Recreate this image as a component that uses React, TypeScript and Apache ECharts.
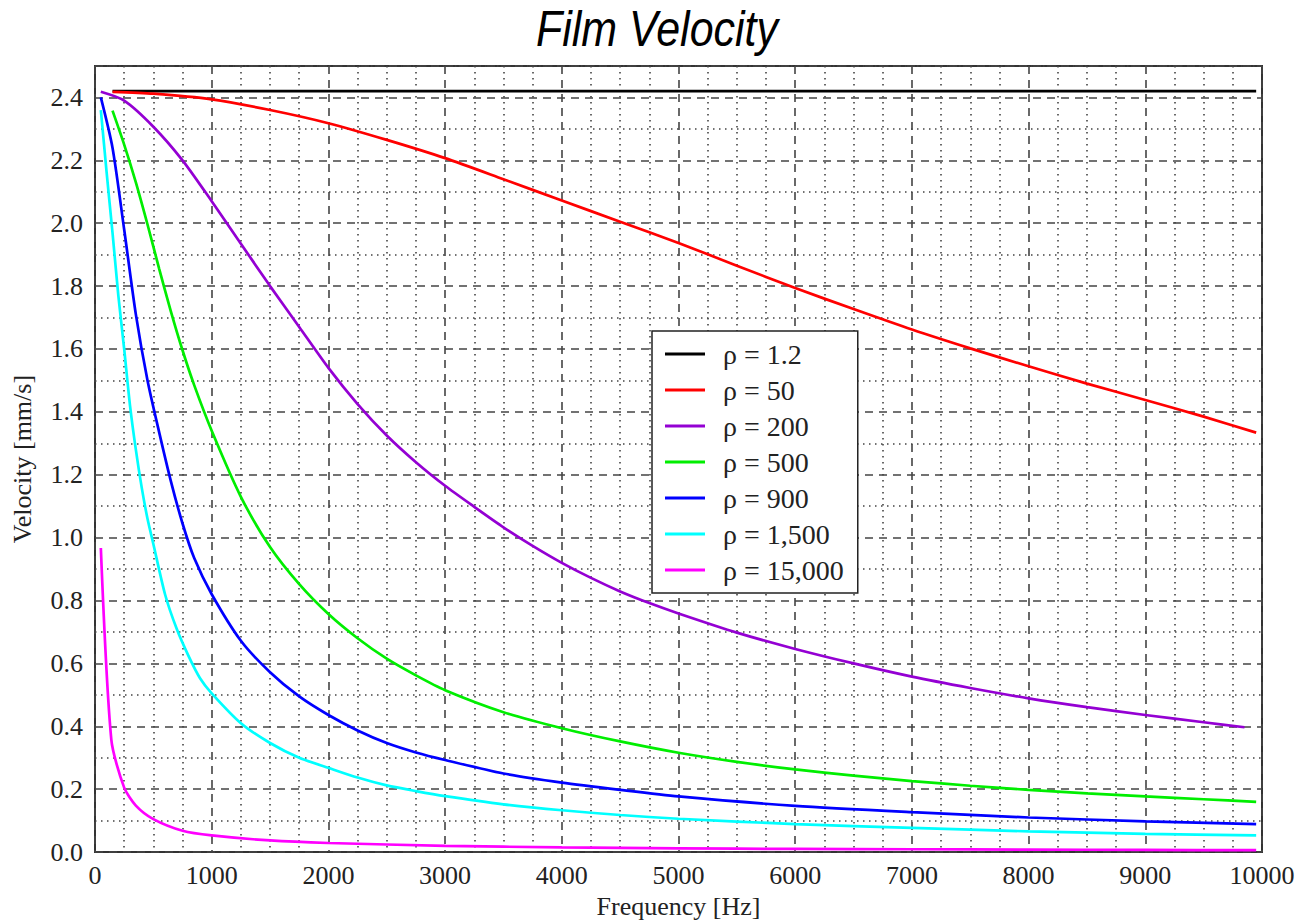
import React, { useEffect, useRef } from "react";
import * as echarts from "echarts";

// Frequency [Hz] / Velocity [mm/s] pairs
const rho1_2: [number, number][] = [[150, 2.42], [2000, 2.42], [5000, 2.42], [9950, 2.42]];
const rho50: [number, number][] = [
  [150, 2.418], [500, 2.412], [1000, 2.394], [1500, 2.36], [2000, 2.318], [2500, 2.265],
  [3000, 2.207], [3500, 2.14], [4000, 2.072], [4500, 2.005], [5000, 1.937], [5500, 1.865],
  [6000, 1.794], [6500, 1.727], [7000, 1.662], [7500, 1.602], [8000, 1.545], [8500, 1.49],
  [9000, 1.438], [9500, 1.385], [9950, 1.334],
];
const rho200: [number, number][] = [
  [50, 2.418], [250, 2.39], [500, 2.307], [750, 2.2], [1000, 2.07], [1250, 1.935],
  [1500, 1.8], [1750, 1.67], [2000, 1.54], [2250, 1.425], [2500, 1.325], [2750, 1.24],
  [3000, 1.165], [3250, 1.098], [3500, 1.033], [3750, 0.974], [4000, 0.92], [4250, 0.872],
  [4500, 0.829], [4750, 0.792], [5000, 0.759], [5500, 0.698], [6000, 0.646], [6500, 0.6],
  [7000, 0.558], [7500, 0.522], [8000, 0.489], [8500, 0.461], [9000, 0.436], [9500, 0.413],
  [9850, 0.397],
];
const rho500: [number, number][] = [
  [150, 2.358], [250, 2.25], [350, 2.13], [450, 1.996], [550, 1.855], [650, 1.72],
  [750, 1.596], [850, 1.485], [1000, 1.34], [1250, 1.13], [1500, 0.97], [1750, 0.852],
  [2000, 0.757], [2250, 0.68], [2500, 0.615], [2750, 0.562], [3000, 0.515], [3500, 0.445],
  [4000, 0.394], [4500, 0.352], [5000, 0.316], [5500, 0.287], [6000, 0.263], [6500, 0.243],
  [7000, 0.226], [7500, 0.211], [8000, 0.198], [8500, 0.187], [9000, 0.177], [9500, 0.168],
  [9950, 0.16],
];
const rho900: [number, number][] = [
  [50, 2.4], [150, 2.24], [250, 1.98], [350, 1.71], [450, 1.5], [550, 1.335], [650, 1.18],
  [750, 1.045], [850, 0.935], [1000, 0.82], [1250, 0.672], [1500, 0.572], [1750, 0.495],
  [2000, 0.436], [2250, 0.387], [2500, 0.347], [2750, 0.317], [3000, 0.293], [3500, 0.25],
  [4000, 0.221], [4500, 0.198], [5000, 0.177], [6000, 0.147], [7000, 0.127], [8000, 0.11],
  [9000, 0.098], [9950, 0.089],
];
const rho1500: [number, number][] = [
  [50, 2.36], [100, 2.16], [150, 1.97], [200, 1.77], [250, 1.6], [300, 1.42], [350, 1.28],
  [400, 1.16], [450, 1.06], [500, 0.98], [600, 0.82], [700, 0.71], [800, 0.625], [900, 0.553],
  [1000, 0.505], [1250, 0.41], [1500, 0.347], [1750, 0.3], [2000, 0.268], [2250, 0.237],
  [2500, 0.212], [2750, 0.194], [3000, 0.178], [3500, 0.152], [4000, 0.133], [4500, 0.118],
  [5000, 0.106], [6000, 0.089], [7000, 0.077], [8000, 0.066], [9000, 0.058], [9950, 0.053],
];
const rho15000: [number, number][] = [
  [50, 0.967], [140, 0.357], [250, 0.205], [350, 0.148], [500, 0.105], [750, 0.068],
  [1000, 0.053], [1500, 0.037], [2000, 0.029], [3000, 0.02], [4000, 0.015], [5000, 0.012],
  [6000, 0.01], [7000, 0.009], [8000, 0.008], [9000, 0.007], [9950, 0.006],
];

const seriesNames = ["ρ = 1.2", "ρ = 50", "ρ = 200", "ρ = 500", "ρ = 900", "ρ = 1,500", "ρ = 15,000"];
const seriesData = [rho1_2, rho50, rho200, rho500, rho900, rho1500, rho15000];
const seriesColors = ["#000000", "#ff0000", "#9400d3", "#00ee00", "#0000ff", "#00ffff", "#ff00ff"];

const SERIF = "'Liberation Serif', 'Times New Roman', serif";

export default function App() {
  const ref = useRef<HTMLDivElement>(null);
  useEffect(() => {
    if (!ref.current) return;
    const chart = echarts.init(ref.current, undefined, { renderer: "svg" });
    const gridColor = "#444444";
    chart.setOption({
      animation: false,
      backgroundColor: "#ffffff",
      graphic: [
        {
          type: "text",
          x: 657,
          y: 4,
          scaleX: 0.86,
          style: {
            text: "Film Velocity",
            textAlign: "center",
            textVerticalAlign: "top",
            fontFamily: "'Liberation Sans', Arial, sans-serif",
            fontStyle: "italic",
            fontWeight: "normal",
            fontSize: 50,
            fill: "#000",
          },
        },
      ],
      legend: {
        orient: "vertical",
        left: 652,
        top: 331,
        data: seriesNames,
        icon: "rect",
        itemWidth: 40,
        itemHeight: 3,
        itemGap: 8,
        padding: [9, 14, 9, 13],
        borderColor: "#222",
        borderWidth: 1.5,
        backgroundColor: "#ffffff",
        textStyle: {
          fontFamily: SERIF,
          fontSize: 28,
          lineHeight: 28,
          color: "#222",
          padding: [0, 0, 0, 13],
        },
      },
      grid: {
        left: 95,
        top: 66,
        width: 1167,
        height: 794,
        show: true,
        borderColor: "#333",
        borderWidth: 2,
        backgroundColor: "transparent",
      },
      xAxis: {
        type: "value",
        min: 0,
        max: 10000,
        interval: 1000,
        name: "Frequency [Hz]",
        nameLocation: "middle",
        nameGap: 40,
        nameTextStyle: { fontFamily: SERIF, fontSize: 26, color: "#222" },
        axisLine: { show: false },
        axisTick: { show: false },
        axisLabel: {
          fontFamily: SERIF,
          fontSize: 26,
          color: "#222",
          margin: 10,
          formatter: (v: number) => String(v),
        },
        splitLine: { show: true, lineStyle: { color: gridColor, width: 1.6, type: [8, 6] } },
        minorTick: { show: false, splitNumber: 4 },
        minorSplitLine: { show: true, lineStyle: { color: gridColor, width: 1.6, type: [1.5, 4.5] } },
      },
      yAxis: [
        {
          type: "value",
          min: 0,
          max: 2.5,
          interval: 0.2,
          name: "Velocity [mm/s]",
          nameLocation: "middle",
          nameGap: 60,
          nameTextStyle: { fontFamily: SERIF, fontSize: 26, color: "#222" },
          axisLine: { show: false },
          axisTick: { show: false },
          axisLabel: {
            fontFamily: SERIF,
            fontSize: 26,
            color: "#222",
            margin: 12,
            formatter: (v: number) => (v > 2.45 ? "" : v.toFixed(1)),
          },
          splitLine: { show: true, lineStyle: { color: gridColor, width: 1.6, type: [8, 6] } },
          z: 1,
        },
        {
          type: "value",
          min: 0,
          max: 2.5,
          interval: 0.1,
          axisLine: { show: false },
          axisTick: { show: false },
          axisLabel: { show: false },
          splitLine: {
            show: true,
            lineStyle: { color: ["rgba(0,0,0,0)", gridColor], width: 1.6, type: [1.5, 4.5] },
          },
          z: 0,
        },
      ],
      series: seriesNames.map((name, i) => ({
        name,
        type: "line",
        xAxisIndex: 0,
        yAxisIndex: 0,
        data: seriesData[i],
        showSymbol: false,
        symbol: "none",
        smooth: 0.25,
        color: seriesColors[i],
        lineStyle: { color: seriesColors[i], width: 2.7 },
        z: 3,
      })),
    });
    return () => chart.dispose();
  }, []);
  return (
    <div
      ref={ref}
      style={{ position: "absolute", left: 0, top: 0, width: 1299, height: 924 }}
    />
  );
}
